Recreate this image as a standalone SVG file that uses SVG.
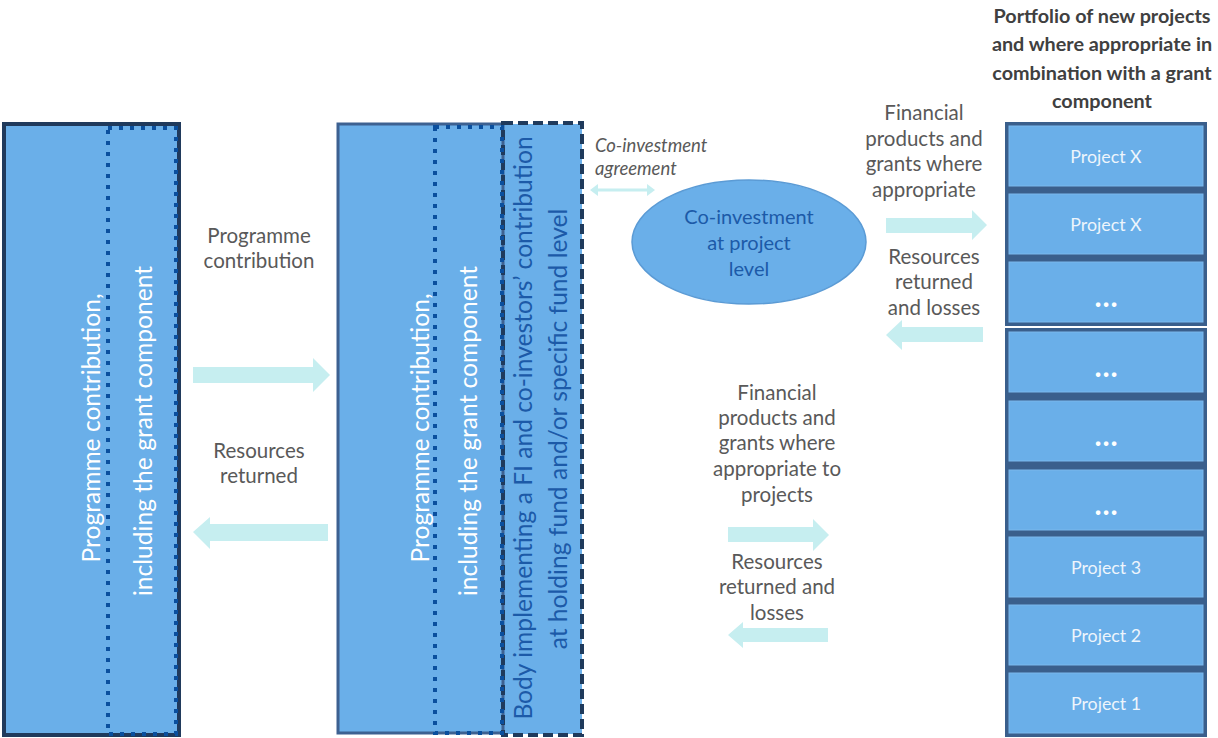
<svg xmlns="http://www.w3.org/2000/svg" width="1218" height="738" viewBox="0 0 1218 738">
<style>
.bg{fill:#ffffff}
.box{fill:#6aafe9}
.dot{fill:none;stroke:#0a4f9e;stroke-width:4;stroke-dasharray:4 7}
.dash{fill:none;stroke:#1f3a5c;stroke-width:4;stroke-dasharray:10 5}
.vt{font-family:Lato,"Liberation Sans",sans-serif;font-size:24.6px;text-anchor:middle}
.white{fill:#ffffff}
.navy{fill:#1c5aa8}
.lbl{font-family:Lato,"Liberation Sans",sans-serif;font-size:20.5px;fill:#595959;text-anchor:middle}
.ital{font-family:Lato,"Liberation Sans",sans-serif;font-size:18.5px;font-style:italic;fill:#595959}
.ell{font-family:Lato,"Liberation Sans",sans-serif;font-size:20px;fill:#1c5aa8;text-anchor:middle}
.title{font-family:Lato,"Liberation Sans",sans-serif;font-size:19.8px;font-weight:bold;fill:#404040;text-anchor:middle}
.stack{fill:#3a5f8c}
.cell{fill:#6aafe9;stroke:#7ab8ec;stroke-width:1}
.ct{font-family:Lato,"Liberation Sans",sans-serif;font-size:17.8px;fill:#eef5fc;text-anchor:middle}
.dots{font-family:Lato,"Liberation Sans",sans-serif;font-size:30px;font-weight:bold;fill:#ffffff;text-anchor:middle}
.arr{fill:#c6eef0}
</style>
<rect class="bg" x="0" y="0" width="1218" height="738"/>

<g id="box1">
<rect class="box" x="4" y="124" width="175" height="611" stroke="#203a5c" stroke-width="4"/>
<rect class="dot" x="108" y="128" width="68" height="606"/>
<text class="vt white" transform="translate(100,428) rotate(-90)">Programme contribution,</text>
<text class="vt white" transform="translate(152,431) rotate(-90)">including the grant component</text>
</g>

<g id="box2">
<rect class="box" x="338" y="124" width="244" height="610"/>
<rect x="338" y="124" width="165" height="609" fill="none" stroke="#3d6191" stroke-width="3"/>
<rect class="dash" x="503" y="123" width="79" height="612"/>
<rect class="dot" x="435" y="127" width="67" height="606"/>
<text class="vt white" transform="translate(429,428) rotate(-90)">Programme contribution,</text>
<text class="vt white" transform="translate(477,431) rotate(-90)">including the grant component</text>
<text class="vt navy" transform="translate(532,428) rotate(-90)">Body implementing a FI and co-investors’ contribution</text>
<text class="vt navy" transform="translate(567,429) rotate(-90)">at holding fund and/or specific fund level</text>
</g>

<g id="coinvest">
<ellipse cx="749" cy="242" rx="117" ry="62" fill="#6aafe9" stroke="#5b9bd5" stroke-width="1.5"/>
<text class="ell" x="749" y="224">Co-investment</text>
<text class="ell" x="749" y="250">at project</text>
<text class="ell" x="749" y="276">level</text>
</g>

<g id="portfolio">
<text class="title" x="1102" y="23">Portfolio of new projects</text>
<text class="title" x="1102" y="51">and where appropriate in</text>
<text class="title" x="1102" y="80">combination with a grant</text>
<text class="title" x="1102" y="108">component</text>
<rect class="stack" x="1005" y="122" width="202" height="204"/>
<rect class="stack" x="1005" y="328" width="202" height="409"/>
</g>
<g id="projX1"><rect class="cell" x="1009" y="126" width="194" height="60"/><text class="ct" x="1106" y="163">Project X</text></g>
<g id="projX2"><rect class="cell" x="1009" y="194" width="194" height="60"/><text class="ct" x="1106" y="231">Project X</text></g>
<g id="projD1"><rect class="cell" x="1009" y="262" width="194" height="60"/><text class="dots" x="1106" y="307">…</text></g>
<g id="projD2"><rect class="cell" x="1009" y="332" width="194" height="60"/><text class="dots" x="1106" y="377">…</text></g>
<g id="projD3"><rect class="cell" x="1009" y="401" width="194" height="60"/><text class="dots" x="1106" y="446">…</text></g>
<g id="projD4"><rect class="cell" x="1009" y="470" width="194" height="60"/><text class="dots" x="1106" y="515">…</text></g>
<g id="proj3"><rect class="cell" x="1009" y="537" width="194" height="60"/><text class="ct" x="1106" y="574">Project 3</text></g>
<g id="proj2"><rect class="cell" x="1009" y="605" width="194" height="60"/><text class="ct" x="1106" y="642">Project 2</text></g>
<g id="proj1"><rect class="cell" x="1009" y="673" width="194" height="60"/><text class="ct" x="1106" y="710">Project 1</text></g>

<g id="connectors">
<polygon class="arr" points="193,367 313,367 313,358 330,375 313,392 313,383 193,383"/>
<polygon class="arr" points="193,532 210,517 210,524 328,524 328,541 210,541 210,549"/>
<polygon class="arr" points="886,218 972,218 972,210 987,225 972,240 972,233 886,233"/>
<polygon class="arr" points="886,335 902,320 902,327 983,327 983,342 902,342 902,350"/>
<polygon class="arr" points="728,527 813,527 813,519 829,535 813,551 813,542 728,542"/>
<polygon class="arr" points="728,635 743,622 743,628 828,628 828,642 743,642 743,648"/>
<polygon class="arr" points="590,190 598,184 598,188.5 647,188.5 647,184 655,190 647,196 647,191.5 598,191.5 598,196"/>
<text class="lbl" x="259" y="243">Programme</text>
<text class="lbl" x="259" y="268">contribution</text>
<text class="lbl" x="259" y="458">Resources</text>
<text class="lbl" x="259" y="483">returned</text>
<text class="ital" x="595" y="152">Co-investment</text>
<text class="ital" x="595" y="175">agreement</text>
<text class="lbl" x="924" y="120">Financial</text>
<text class="lbl" x="924" y="146">products and</text>
<text class="lbl" x="924" y="171">grants where</text>
<text class="lbl" x="924" y="197">appropriate</text>
<text class="lbl" x="934" y="264">Resources</text>
<text class="lbl" x="934" y="289">returned</text>
<text class="lbl" x="934" y="315">and losses</text>
<text class="lbl" x="777" y="400">Financial</text>
<text class="lbl" x="777" y="425">products and</text>
<text class="lbl" x="777" y="450">grants where</text>
<text class="lbl" x="777" y="476">appropriate to</text>
<text class="lbl" x="777" y="502">projects</text>
<text class="lbl" x="777" y="569">Resources</text>
<text class="lbl" x="777" y="594">returned and</text>
<text class="lbl" x="777" y="620">losses</text>
</g>
</svg>
